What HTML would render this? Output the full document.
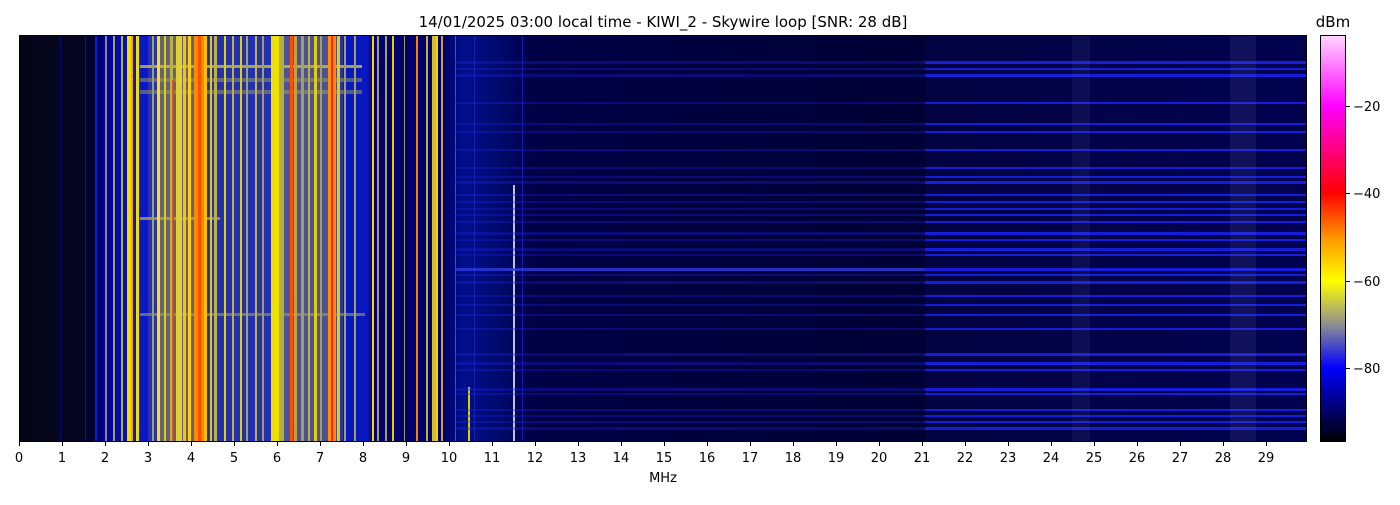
<!DOCTYPE html>
<html><head><meta charset="utf-8"><style>
body{margin:0;background:#fff;width:1400px;height:500px;overflow:hidden}
svg text{font-family:"DejaVu Sans","Liberation Sans",sans-serif;fill:#000}
</style></head><body>
<svg width="1400" height="500" xmlns="http://www.w3.org/2000/svg">
<defs>
<linearGradient id="bg" x1="0" x2="1" y1="0" y2="0">
<stop offset="0" stop-color="#050518"/>
<stop offset="0.045" stop-color="#050520"/>
<stop offset="0.06" stop-color="#020230"/>
<stop offset="0.065" stop-color="#000090"/>
<stop offset="0.09" stop-color="#0818c0"/>
<stop offset="0.1" stop-color="#0818c8"/>
<stop offset="0.27" stop-color="#0818c0"/>
<stop offset="0.275" stop-color="#000070"/>
<stop offset="0.33" stop-color="#000068"/>
<stop offset="0.345" stop-color="#00108a"/>
<stop offset="0.37" stop-color="#000a70"/>
<stop offset="0.4" stop-color="#000045"/>
<stop offset="0.7" stop-color="#000035"/>
<stop offset="1" stop-color="#000045"/>
</linearGradient>
<linearGradient id="cb" x1="0" x2="0" y1="0" y2="1">
<stop offset="0" stop-color="#ffd8ff"/>
<stop offset="0.174" stop-color="#ff00ff"/>
<stop offset="0.388" stop-color="#ff0000"/>
<stop offset="0.5" stop-color="#ff9900"/>
<stop offset="0.604" stop-color="#ffff00"/>
<stop offset="0.71" stop-color="#909090"/>
<stop offset="0.818" stop-color="#0000ff"/>
<stop offset="1" stop-color="#000000"/>
</linearGradient>
<clipPath id="pc"><rect x="19" y="35" width="1288" height="407"/></clipPath>
<g id="hl">
<rect x="0" y="61" width="1" height="3"/>
<rect x="0" y="68" width="1" height="2"/>
<rect x="0" y="74" width="1" height="3"/>
<rect x="0" y="102" width="1" height="2"/>
<rect x="0" y="123" width="1" height="2"/>
<rect x="0" y="131" width="1" height="2"/>
<rect x="0" y="149" width="1" height="2"/>
<rect x="0" y="167" width="1" height="2"/>
<rect x="0" y="176" width="1" height="2"/>
<rect x="0" y="181" width="1" height="3"/>
<rect x="0" y="194" width="1" height="2"/>
<rect x="0" y="201" width="1" height="2"/>
<rect x="0" y="208" width="1" height="2"/>
<rect x="0" y="214" width="1" height="2"/>
<rect x="0" y="221" width="1" height="2"/>
<rect x="0" y="232" width="1" height="3"/>
<rect x="0" y="239" width="1" height="2"/>
<rect x="0" y="248" width="1" height="3"/>
<rect x="0" y="254" width="1" height="2"/>
<rect x="0" y="268" width="1" height="3"/>
<rect x="0" y="274" width="1" height="2"/>
<rect x="0" y="281" width="1" height="3"/>
<rect x="0" y="295" width="1" height="2"/>
<rect x="0" y="304" width="1" height="2"/>
<rect x="0" y="314" width="1" height="2"/>
<rect x="0" y="328" width="1" height="2"/>
<rect x="0" y="353" width="1" height="3"/>
<rect x="0" y="362" width="1" height="3"/>
<rect x="0" y="369" width="1" height="2"/>
<rect x="0" y="388" width="1" height="3"/>
<rect x="0" y="393" width="1" height="2"/>
<rect x="0" y="409" width="1" height="2"/>
<rect x="0" y="415" width="1" height="2"/>
<rect x="0" y="421" width="1" height="2"/>
<rect x="0" y="427" width="1" height="3"/>
</g>
</defs>
<text x="663" y="27" font-size="15" text-anchor="middle">14/01/2025 03:00 local time - KIWI_2 - Skywire loop [SNR: 28 dB]</text>
<g clip-path="url(#pc)">
<rect x="19" y="35" width="1288" height="407" fill="url(#bg)"/>
<rect x="148" y="35" width="195" height="407" fill="#8a8a70" opacity="0.22"/>
<rect x="160" y="35" width="40" height="407" fill="#b0a040" opacity="0.45"/>
<rect x="280" y="35" width="60" height="407" fill="#9a9060" opacity="0.35"/>
<rect x="140" y="65" width="222" height="3" fill="#c8c040" opacity="0.8"/>
<rect x="140" y="78" width="222" height="4" fill="#a0a060" opacity="0.5"/>
<rect x="140" y="90" width="222" height="4" fill="#a0a060" opacity="0.5"/>
<rect x="140" y="217" width="80" height="3" fill="#c0b040" opacity="0.7"/>
<rect x="140" y="313" width="225" height="3" fill="#a0a060" opacity="0.6"/>
<g>
<rect x="60" y="35" width="1" height="407" fill="#0010a0" opacity="0.6"/>
<rect x="85" y="35" width="1" height="407" fill="#0020d0" opacity="0.7"/>
<rect x="95" y="35" width="2" height="407" fill="#0020e0"/>
<rect x="105" y="35" width="2" height="407" fill="#8a8a80"/>
<rect x="113" y="35" width="2" height="407" fill="#a0a060"/>
<rect x="121" y="35" width="2" height="407" fill="#b0b040"/>
<rect x="127" y="35" width="6" height="407" fill="#f0e000"/>
<rect x="131" y="35" width="2" height="407" fill="#ffa000"/>
<rect x="136" y="35" width="3" height="407" fill="#f0e000"/>
<rect x="152" y="35" width="2" height="407" fill="#a0a060"/>
<rect x="157" y="35" width="3" height="407" fill="#ffe000"/>
<rect x="164" y="35" width="2" height="407" fill="#e0d000"/>
<rect x="170" y="35" width="3" height="407" fill="#c0b040"/>
<rect x="172" y="80" width="2" height="362" fill="#ff3000" opacity="0.7"/>
<rect x="176" y="35" width="6" height="407" fill="#e0d030"/>
<rect x="183" y="35" width="3" height="407" fill="#ffc000"/>
<rect x="188" y="35" width="3" height="407" fill="#ffd000"/>
<rect x="194" y="35" width="12" height="407" fill="#ff8a00"/>
<rect x="198" y="35" width="3" height="407" fill="#ff5000"/>
<rect x="204" y="35" width="3" height="407" fill="#ffc000"/>
<rect x="210" y="35" width="2" height="407" fill="#e0d000"/>
<rect x="214" y="35" width="3" height="407" fill="#c0b040"/>
<rect x="224" y="35" width="2" height="407" fill="#e0d000"/>
<rect x="232" y="35" width="2" height="407" fill="#c0b040"/>
<rect x="240" y="35" width="2" height="407" fill="#e0d000"/>
<rect x="246" y="35" width="2" height="407" fill="#a0a060"/>
<rect x="255" y="35" width="2" height="407" fill="#c0b040"/>
<rect x="262" y="35" width="2" height="407" fill="#a0a060"/>
<rect x="271" y="35" width="8" height="407" fill="#f0e000"/>
<rect x="279" y="35" width="5" height="407" fill="#b0b040"/>
<rect x="290" y="35" width="3" height="407" fill="#ff5000"/>
<rect x="294" y="35" width="3" height="407" fill="#c0a040"/>
<rect x="301" y="35" width="3" height="407" fill="#a0a060"/>
<rect x="308" y="35" width="2" height="407" fill="#c0b040"/>
<rect x="314" y="35" width="3" height="407" fill="#e0d000"/>
<rect x="320" y="35" width="2" height="407" fill="#a0a060"/>
<rect x="328" y="35" width="8" height="407" fill="#ff9000"/>
<rect x="331" y="35" width="2" height="407" fill="#ff2020"/>
<rect x="337" y="35" width="3" height="407" fill="#e0d000"/>
<rect x="344" y="35" width="2" height="407" fill="#a0a060"/>
<rect x="354" y="35" width="2" height="407" fill="#a0a060"/>
<rect x="372" y="35" width="2" height="407" fill="#ffd000"/>
<rect x="377" y="35" width="2" height="407" fill="#a0a060"/>
<rect x="385" y="35" width="2" height="407" fill="#a0a060"/>
<rect x="392" y="35" width="2" height="407" fill="#e0d000"/>
<rect x="404" y="35" width="1" height="407" fill="#a0a060"/>
<rect x="416" y="35" width="2" height="407" fill="#ff8000"/>
<rect x="426" y="35" width="2" height="407" fill="#c0b040"/>
<rect x="432" y="35" width="6" height="407" fill="#d0c030"/>
<rect x="436" y="35" width="2" height="407" fill="#ffd000"/>
<rect x="441" y="35" width="2" height="407" fill="#c0a040"/>
<rect x="455" y="35" width="1" height="407" fill="#4050c0"/>
<rect x="468" y="387" width="2" height="55" fill="#e0d000"/>
<rect x="474" y="35" width="1" height="407" fill="#2030d0" opacity="0.6"/>
<rect x="513" y="185" width="2" height="257" fill="#c0c0e0"/>
<rect x="522" y="35" width="1" height="407" fill="#2030d0" opacity="0.6"/>
</g>
<use href="#hl" transform="translate(455 0) scale(852 1)" fill="#1a22e0" opacity="0.35"/>
<use href="#hl" transform="translate(925 0) scale(382 1)" fill="#1a22f0" opacity="0.8"/>
<rect x="455" y="268" width="470" height="3" fill="#3040e0" opacity="0.7"/>
<rect x="925" y="35" width="382" height="407" fill="#1020ff" opacity="0.06"/>
<rect x="1230" y="35" width="26" height="407" fill="#8080c0" opacity="0.12"/>
<rect x="1072" y="35" width="18" height="407" fill="#8080c0" opacity="0.1"/>
</g>
<rect x="19.5" y="35.5" width="1287" height="406" fill="none" stroke="#000" stroke-width="1"/>
<g stroke="#000" stroke-width="1">
<path d="M19.5 442v4M62.5 442v4M105.5 442v4M148.5 442v4M191.5 442v4M234.5 442v4M277.5 442v4M320.5 442v4M363.5 442v4M406.5 442v4M449.5 442v4M492.5 442v4M535.5 442v4M578.5 442v4M621.5 442v4M664.5 442v4M707.5 442v4M750.5 442v4M793.5 442v4M836.5 442v4M879.5 442v4M922.5 442v4M965.5 442v4M1008.5 442v4M1051.5 442v4M1094.5 442v4M1137.5 442v4M1180.5 442v4M1223.5 442v4M1266.5 442v4"/>
</g>
<g font-size="13" text-anchor="middle">
<text x="19" y="462">0</text><text x="62" y="462">1</text><text x="105" y="462">2</text><text x="148" y="462">3</text><text x="191" y="462">4</text><text x="234" y="462">5</text><text x="277" y="462">6</text><text x="320" y="462">7</text><text x="363" y="462">8</text><text x="406" y="462">9</text><text x="449" y="462">10</text><text x="492" y="462">11</text><text x="535" y="462">12</text><text x="578" y="462">13</text><text x="621" y="462">14</text><text x="664" y="462">15</text><text x="707" y="462">16</text><text x="750" y="462">17</text><text x="793" y="462">18</text><text x="836" y="462">19</text><text x="879" y="462">20</text><text x="922" y="462">21</text><text x="965" y="462">22</text><text x="1008" y="462">23</text><text x="1051" y="462">24</text><text x="1094" y="462">25</text><text x="1137" y="462">26</text><text x="1180" y="462">27</text><text x="1223" y="462">28</text><text x="1266" y="462">29</text>
</g>
<text x="663" y="482" font-size="13" text-anchor="middle">MHz</text>
<rect x="1320" y="35" width="26" height="407" fill="url(#cb)"/>
<rect x="1320.5" y="35.5" width="25" height="406" fill="none" stroke="#000"/>
<g stroke="#000"><path d="M1346 106.5h4M1346 193.5h4M1346 281.5h4M1346 368.5h4"/></g>
<g font-size="13">
<text x="1353" y="111">−20</text><text x="1353" y="198">−40</text><text x="1353" y="286">−60</text><text x="1353" y="373">−80</text>
</g>
<text x="1333" y="27" font-size="15" text-anchor="middle">dBm</text>
</svg>
</body></html>
